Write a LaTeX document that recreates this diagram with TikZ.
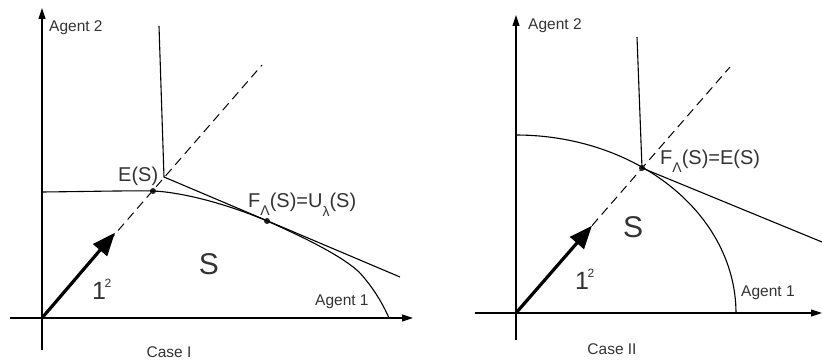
\documentclass[tikz,border=0pt]{standalone}
\usepackage{fontspec}
\setmainfont{Liberation Sans}
\usetikzlibrary{arrows.meta}
\definecolor{txt}{gray}{0.2}
\tikzset{
  axis/.style={line width=1.1pt, -{Triangle[length=11pt,width=7pt]}},
  curve/.style={line width=1.1pt},
  dashline/.style={line width=1pt, dash pattern=on 9pt off 5.5pt},
  bigarrow/.style={line width=3.2pt, -{Triangle[length=23pt,width=18pt]}, shorten >=-3pt},
  lbl/.style={inner sep=0pt, text=txt, font=\fontsize{15.5}{18}\selectfont},
  eq/.style={inner sep=0pt, text=txt, font=\fontsize{20}{24}\selectfont},
  setS/.style={inner sep=0pt, text=txt, font=\fontsize{30}{34}\selectfont},
  one/.style={inner sep=0pt, text=txt, font=\fontsize{25}{28}\selectfont},
  dot/.style={circle, fill=black!85, inner sep=0pt, minimum size=6pt}
}
\newcommand{\sbL}{\raisebox{-8pt}{\fontsize{14}{14}\selectfont Λ}}
\newcommand{\sbl}{\raisebox{-9pt}{\fontsize{14}{14}\selectfont λ}}
\newcommand{\suptwo}{\raisebox{12pt}{\fontsize{12}{14}\selectfont\kern-1.5pt 2}}
\begin{document}
\begin{tikzpicture}[x=1pt,y=-1pt]
\useasboundingbox (0,0) rectangle (822,363);
% ---------- Case I ----------
\coordinate (o1) at (42,318);
\coordinate (yb1) at (42,350);
\coordinate (yt1) at (42,8);
\coordinate (xl1) at (10,318);
\coordinate (xr1) at (413,318);
\draw[axis] (yb1) -- (yt1);
\draw[axis] (xl1) -- (xr1);
\coordinate (d1) at (262,65);
\draw[dashline] (o1) -- (d1);
\coordinate (a1) at (113,235);
\draw[bigarrow] (o1) -- (a1);
\coordinate (v1) at (159,26);
\coordinate (k1) at (164,177);
\coordinate (l1) at (400,277);
\draw[curve] (v1) -- (k1) -- (l1);
\node[dot] (E1) at (153,191) {};
\node[dot] (F1) at (267,221) {};
\coordinate (c1) at (42,192);
\coordinate (e1) at (389,318);
\draw[curve] (c1) .. controls (90,191.5) and (130,190.5) .. (E1.center)
  .. controls (180,192) and (225,203) .. (F1.center)
  .. controls (308,239) and (343,257) .. (359,272)
  .. controls (372,286) and (382,302) .. (e1);
\node[lbl, anchor=base west] (ag21) at (49,32) {Agent 2};
\node[lbl, anchor=base west] (ag11) at (315,306) {Agent 1};
\node[lbl, anchor=base] (case1) at (169,357) {Case I};
\node[eq, anchor=base west] (es1) at (118,182) {E(S)};
\node[eq, anchor=base west] (fu1) at (248,208) {F\sbL(S)=U\sbl(S)};
\node[setS] (S1) at (209,264) {S};
\node[one, anchor=base west] (one1) at (92,300) {1\suptwo};
% ---------- Case II ----------
\coordinate (o2) at (516,313);
\coordinate (yb2) at (516,340);
\coordinate (yt2) at (516,15);
\coordinate (xl2) at (475,313);
\coordinate (xr2) at (822,313);
\draw[axis] (yb2) -- (yt2);
\draw[axis] (xl2) -- (xr2);
\coordinate (d2) at (730,67);
\draw[dashline] (o2) -- (d2);
\coordinate (a2) at (590,228);
\draw[bigarrow] (o2) -- (a2);
\node[dot] (F2) at (642,168) {};
\coordinate (v2) at (637,37);
\coordinate (l2) at (822,242);
\draw[curve] (v2) -- (F2.center) -- (l2);
\draw[curve] plot[domain=0:90, samples=60] ({516+220*cos(\x)},{313-178*sin(\x)});
\node[lbl, anchor=base west] (ag22) at (528,30) {Agent 2};
\node[lbl, anchor=base west] (ag12) at (741,297) {Agent 1};
\node[lbl, anchor=base] (case2) at (612,354) {Case II};
\node[eq, anchor=base west] (fe2) at (660,165) {F\sbL(S)=E(S)};
\node[setS] (S2) at (633,227) {S};
\node[one, anchor=base west] (one2) at (575,290) {1\suptwo};
\end{tikzpicture}
\end{document}
